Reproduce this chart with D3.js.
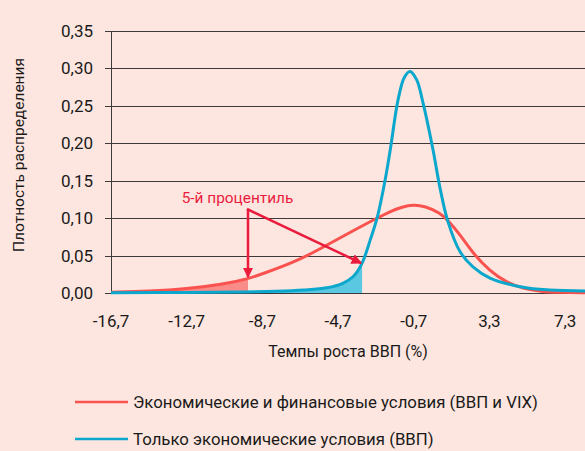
<!DOCTYPE html>
<html><head><meta charset="utf-8">
<script src="https://cdn.jsdelivr.net/npm/d3@7"></script>
<style>
html,body{margin:0;padding:0;background:#fde6df;}
svg{display:block;font-family:Roboto,"Open Sans",sans-serif;}
</style></head>
<body>
<svg id="chart" width="585" height="451"></svg>
<script>
// ---- data ----
const xTicks = [-16.7, -12.7, -8.7, -4.7, -0.7, 3.3, 7.3];
const yTicks = [0, 0.05, 0.10, 0.15, 0.20, 0.25, 0.30, 0.35];

// Economic + financial conditions (GDP & VIX): [growth, density]
const redX = [-16.7,-14.7,-12.7,-10.7,-9.46,-8.7,-7,-5.5,-4,-2.64,-1.95,-1.3,-0.74,-0.1,0.69,1.11,1.75,2.43,3.33,4.2,5.08,6,7,8.4];
const redY = [0.001,0.0025,0.0055,0.012,0.019,0.0255,0.041,0.061,0.082,0.100,0.109,0.115,0.118,0.116,0.107,0.097,0.078,0.053,0.029,0.014,0.006,0.002,0.0007,0.0004];

// Only economic conditions (GDP)
const blueX = [-16.7,-12.7,-10,-8,-6.5,-5.3,-4.45,-3.9,-3.43,-3.0,-2.64,-2.22,-1.95,-1.53,-1.2,-0.9,-0.55,-0.21,0.32,0.69,1.11,1.75,2.43,3.33,5.08,6.5,8.4];
const blueY = [0.0004,0.0008,0.0013,0.0022,0.004,0.007,0.013,0.022,0.040,0.071,0.100,0.150,0.190,0.258,0.288,0.296,0.285,0.254,0.191,0.140,0.095,0.055,0.035,0.020,0.0076,0.004,0.0027];

const redCut = -9.46;   // 5th percentile
const blueCut = -3.43;  // 5th percentile

const seriesNames = ["Экономические и финансовые условия (ВВП и VIX)", "Только экономические условия (ВВП)"];
const colors = ["#f9524f", "#0ba7cd"];
const shadeColors = ["#f98b88", "#5bc8e2"];

// ---- chart ----
const svg = d3.select("#chart");
const x = d3.scaleLinear().domain([-16.7, 8.35]).range([111, 585]);
const y = d3.scaleLinear().domain([0, 0.35]).range([293, 31]);

const red = redX.map((v,i)=>[v, redY[i]]);
const blue = blueX.map((v,i)=>[v, blueY[i]]);

// gridlines
svg.append("g").selectAll("line").data(yTicks).join("line")
  .attr("x1", 105).attr("x2", 585)
  .attr("y1", d=>Math.round(y(d))+0.5).attr("y2", d=>Math.round(y(d))+0.5)
  .attr("stroke", "#3d3a39").attr("stroke-width", 1);

// y labels
svg.append("g").selectAll("text").data(yTicks).join("text")
  .attr("x", 93).attr("y", d=>y(d)+6)
  .attr("text-anchor","end").attr("font-size",17).attr("fill","#1a1a1a")
  .text(d=>d3.format(".2f")(d).replace(".", ","));

// x labels
svg.append("g").selectAll("text").data(xTicks).join("text")
  .attr("x", d=>x(d)).attr("y", 327)
  .attr("text-anchor","middle").attr("font-size",17).attr("fill","#1a1a1a")
  .text(d=>String(d).replace(".", ","));

// y axis line
svg.append("line").attr("x1",111.5).attr("x2",111.5).attr("y1",y(0.35)).attr("y2",y(0)+0.5)
  .attr("stroke","#3d3a39").attr("stroke-width",1);

// shaded areas
const redCurve = d3.curveBasis;
const blueCurve = d3.curveCatmullRom.alpha(0.5);
const areaFn = c => d3.area().x(d=>x(d[0])).y0(y(0)).y1(d=>y(d[1])).curve(c);
const lineFn = c => d3.line().x(d=>x(d[0])).y(d=>y(d[1])).curve(c);
svg.append("path").datum(red.filter(d=>d[0]<=redCut)).attr("d", areaFn(redCurve)).attr("fill", shadeColors[0]);
svg.append("path").datum(blue.filter(d=>d[0]<=blueCut)).attr("d", areaFn(blueCurve)).attr("fill", shadeColors[1]);

// curves
svg.append("path").datum(red).attr("d", lineFn(redCurve)).attr("fill","none").attr("stroke",colors[0]).attr("stroke-width",3);
svg.append("path").datum(blue).attr("d", lineFn(blueCurve)).attr("fill","none").attr("stroke",colors[1]).attr("stroke-width",3);

// annotation
const ann = "#ea1b3d";
const vx = x(redCut), vy = 209;
const defs = svg.append("defs");
defs.append("marker").attr("id","ah").attr("viewBox","0 0 10 10").attr("refX",9).attr("refY",5)
  .attr("markerWidth",4.2).attr("markerHeight",4.2).attr("orient","auto").attr("markerUnits","strokeWidth")
  .append("path").attr("d","M0,0 L10,5 L0,10 z").attr("fill",ann);
svg.append("path")
  .attr("d", `M${vx},${vy} L${vx},${y(0.020)-1}`)
  .attr("fill","none").attr("stroke",ann).attr("stroke-width",2.5).attr("marker-end","url(#ah)");
svg.append("path")
  .attr("d", `M${vx-1},${vy} L${x(blueCut)-1},${y(0.040)}`)
  .attr("fill","none").attr("stroke",ann).attr("stroke-width",2.5).attr("marker-end","url(#ah)");
svg.append("text").attr("x", 237.5).attr("y", 203).attr("text-anchor","middle")
  .attr("font-size",15.4).attr("fill",ann).text("5-й процентиль");

// axis titles
svg.append("text").attr("x", 348).attr("y", 357).attr("text-anchor","middle")
  .attr("font-size",16).attr("fill","#1a1a1a").text("Темпы роста ВВП (%)");
svg.append("text").attr("transform","translate(24,155) rotate(-90)").attr("text-anchor","middle")
  .attr("font-size",15.5).attr("fill","#1a1a1a").text("Плотность распределения");

// legend
const lg = svg.append("g").selectAll("g").data(seriesNames).join("g")
  .attr("transform",(d,i)=>`translate(0,${402 + i*37})`);
lg.append("line").attr("x1",75).attr("x2",128).attr("y1",0).attr("y2",0)
  .attr("stroke",(d,i)=>colors[i]).attr("stroke-width",2.5);
lg.append("text").attr("x",133).attr("y",6).attr("font-size",16.8).attr("fill","#1a1a1a").text(d=>d);
</script>
</body></html>
